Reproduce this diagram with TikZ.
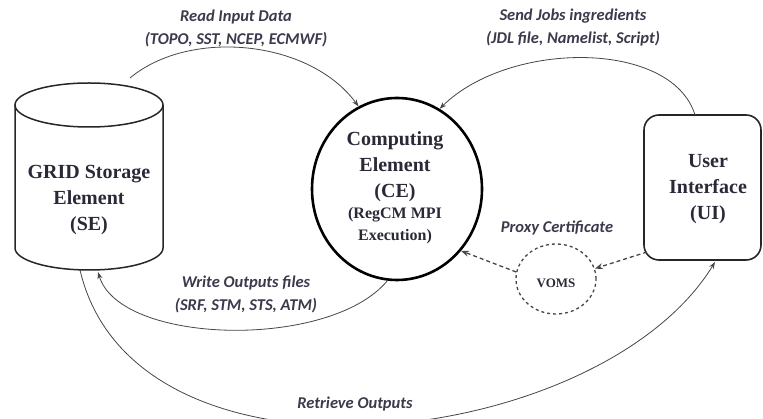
\documentclass[tikz,border=0pt]{standalone}
\usepackage{fontspec}
\setmainfont{Liberation Serif}
\newfontfamily\lblfont{Carlito}[BoldItalicFont={Carlito Bold Italic}, BoldFont={Carlito Bold}, ItalicFont={Carlito Italic}]
\usetikzlibrary{arrows.meta,shapes.geometric}
\definecolor{txt}{RGB}{45,40,55}
\definecolor{lbl}{RGB}{62,56,76}
\definecolor{ln}{RGB}{70,70,70}
\tikzset{
  nodetext/.style={font=\fontsize{20}{26}\selectfont\bfseries, text=txt, align=center, inner sep=0pt},
  lbltext/.style={font=\lblfont\fontsize{16.5}{23}\selectfont\bfseries\itshape, text=lbl, align=center, inner sep=0pt},
  flow/.style={draw=ln, line width=0.8pt, -{Stealth[length=7pt,width=5pt]}},
  dflow/.style={draw=ln, line width=1.3pt, dash pattern=on 4pt off 3pt, -{Stealth[length=8pt,width=6pt]}},
}
\begin{document}
\begin{tikzpicture}[x=1pt,y=-1pt]
\useasboundingbox (0,0) rectangle (763,419);
% cylinder (Storage Element)
\draw[line width=1.5pt, draw=black!85] (89,105) ellipse [x radius=74pt, y radius=22pt];
\draw[line width=1.5pt, draw=black!85] (15,105) -- (15,248) arc[start angle=180, end angle=360, x radius=74pt, y radius=22pt] -- (163,105);
\node[nodetext] (se) at (89,200) {GRID Storage\\Element\\(SE)};
\coordinate (seTop) at (130,78);
\coordinate (seBotA) at (98,272);
\coordinate (seBotB) at (80,270);
% Computing Element
\node[ellipse, draw=black, line width=2.6pt, minimum width=170pt, minimum height=182pt, inner sep=0pt] (ce) at (397,189) {};
\node[nodetext, anchor=center] (cet) at (395,188) {Computing\\Element\\(CE)\\[-5pt]{\fontsize{16}{22}\selectfont(RegCM MPI}\\[-4pt]{\fontsize{16}{22}\selectfont Execution)}};
% User Interface
\node[draw=black!85, line width=1.6pt, rounded corners=15pt, minimum width=117pt, minimum height=145pt, inner sep=0pt] (ui) at (702.5,187.5) {};
\node[nodetext] (uit) at (708,189) {User\\Interface\\(UI)};
\coordinate (uiTop) at (695,115);
\coordinate (uiBot) at (715,262);
\coordinate (uiLeft) at (647,252);
% VOMS
\node[ellipse, draw=ln, line width=1.3pt, dash pattern=on 3pt off 3pt, minimum width=80pt, minimum height=70pt, inner sep=0pt] (voms) at (556,279) {};
\node[font=\fontsize{13}{15}\selectfont\bfseries, text=txt, inner sep=0pt] (vomst) at (556,283) {VOMS};
% connectors
\draw[flow] (seTop) .. controls (190,28) and (310,40) .. (ce.115);
\draw[flow] (uiTop) .. controls (672,40) and (510,40) .. (ce.62);
\draw[flow] (ce.-96) .. controls (330,350) and (120,345) .. (seBotA);
\draw[flow] (seBotB) .. controls (135,505) and (600,450) .. (uiBot);
\draw[dflow] (uiLeft) -- (voms.15);
\draw[dflow] (voms.170) -- (ce.-44);
% labels
\node[lbltext] (l1) at (236,28) {Read Input Data\\(TOPO, SST, NCEP, ECMWF)};
\node[lbltext] (l2) at (573,28) {Send Jobs ingredients\\(JDL file, Namelist, Script)};
\node[lbltext] (l3) at (246,294) {Write Outputs files\\(SRF, STM, STS, ATM)};
\node[lbltext] (l4) at (557,228) {Proxy Certificate};
\node[lbltext] (l5) at (355,404) {Retrieve Outputs};
\end{tikzpicture}
\end{document}
